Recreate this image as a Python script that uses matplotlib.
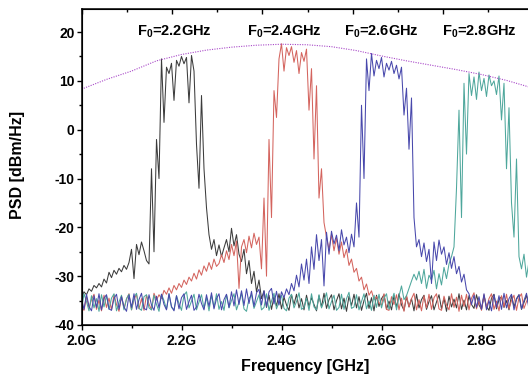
import numpy as np
import matplotlib
matplotlib.use('Agg')
import matplotlib.pyplot as plt
from matplotlib.ticker import MultipleLocator

plt.rcParams['font.family'] = ['Liberation Sans', 'DejaVu Sans']
plt.rcParams['font.weight'] = 'bold'
plt.rcParams['axes.unicode_minus'] = False
plt.rcParams['mathtext.fontset'] = 'custom'
plt.rcParams['mathtext.rm'] = 'Liberation Sans'
plt.rcParams['mathtext.default'] = 'regular'

# sample points every 5 MHz from 2.0 to 2.9 GHz
freq = np.linspace(2.0, 2.9, 181)

psd_22 = [-34.5, -33.2, -33.8, -32.6, -33.1, -31.9, -32.4, -31.5, -32.2, -30.6,
          -31.4, -29.2, -30.3, -28.8, -29.6, -28.4, -29.1, -27.8, -28.6, -27.2,
          -24.5, -30.5, -23.5, -25.6, -23.0, -24.8, -26.8, -27.5, -8.0, -25.0,
          -2.0, -10.0, 14.5, 1.5, 12.8, 11.5, 13.6, 6.0, 14.2, 13.0,
          15.0, 13.5, 14.8, 5.5, 15.2, 12.0, -3.0, -12.0, 7.0, -8.0,
          -16.0, -21.5, -24.5, -22.5, -25.8, -23.6, -26.0, -24.2, -22.5, -25.0,
          -20.2, -23.8, -21.5, -25.5, -27.0, -24.5, -29.5, -26.8, -31.5, -29.0,
          -33.2, -30.8, -34.6, -33.0, -36.4, -33.9, -36.8, -34.2, -36.1, -33.6,
          -36.7, -34.3, -35.9, -37.0, -33.8, -35.8, -33.7, -36.5, -34.6, -36.9,
          -33.9, -36.2, -34.4, -35.8, -37.1, -34.0, -36.3, -33.5, -36.6, -34.8,
          -33.8, -36.9, -35.0, -33.6, -36.7, -34.5, -37.2, -34.1, -36.0, -33.7,
          -36.5, -34.2, -37.0, -35.0, -33.5, -36.6, -34.4, -37.1, -33.9, -36.2,
          -34.6, -33.8, -36.8, -35.1, -36.9, -34.0, -36.4, -33.6, -35.9, -37.0,
          -34.2, -36.3, -34.6, -37.1, -33.7, -36.5, -34.8, -33.9, -36.8, -35.2,
          -34.0, -36.9, -35.3, -33.8, -36.7, -34.5, -37.2, -34.1, -36.3, -34.7,
          -36.5, -33.6, -36.8, -34.9, -36.9, -34.0, -35.8, -36.6, -33.8, -35.9,
          -36.8, -34.0, -36.2, -37.0, -34.5, -33.7, -36.7, -34.8, -34.2, -36.4,
          -35.0, -36.9, -33.9, -36.3, -34.6, -33.8, -36.8, -35.4, -33.9, -36.0,
          -36.5]

psd_24 = [-36.3, -37.0, -34.2, -36.5, -34.8, -33.7, -36.8, -34.9, -37.1, -33.9,
          -36.4, -34.5, -36.9, -33.8, -35.8, -37.2, -34.1, -36.6, -34.7, -33.6,
          -36.9, -34.8, -33.7, -36.7, -34.6, -37.0, -33.9, -35.7, -36.9, -33.5,
          -34.9, -33.8, -34.6, -32.9, -33.7, -32.4, -33.5, -31.9, -32.8, -31.5,
          -32.3, -30.8, -31.7, -30.2, -31.0, -29.4, -30.6, -28.7, -29.8, -27.9,
          -29.0, -27.2, -28.6, -26.5, -28.0, -27.4, -25.6, -27.2, -24.8, -26.6,
          -23.5, -25.8, -22.8, -32.5, -24.0, -22.5, -25.2, -21.8, -24.2, -21.2,
          -23.5, -22.0, -28.5, -14.0, -30.0, -2.0, -18.0, 8.0, 2.5, 14.5,
          17.6, 12.0, 16.8, 15.2, 17.0, 13.8, 16.2, 11.5, 15.8, 14.0,
          16.5, 4.0, 12.5, -6.0, 9.0, -14.0, -8.0, -19.0, -22.0, -24.5,
          -21.5, -24.8, -22.2, -25.5, -23.0, -26.2, -24.5, -27.8, -26.5, -29.2,
          -28.4, -31.0, -30.2, -32.8, -31.6, -33.9, -33.0, -34.8, -34.2, -35.5,
          -35.9, -33.6, -36.8, -37.0, -34.2, -35.8, -33.8, -36.9, -34.5, -37.2,
          -33.9, -36.3, -34.6, -33.5, -36.9, -34.8, -37.1, -34.0, -36.5, -33.7,
          -36.8, -34.4, -33.6, -36.7, -37.0, -34.1, -35.9, -36.9, -33.6, -36.4,
          -34.3, -37.2, -33.9, -36.2, -33.7, -36.9, -34.5, -33.4, -36.7, -35.0,
          -37.0, -33.8, -36.5, -34.6, -33.6, -36.8, -35.1, -37.1, -34.0, -36.3,
          -33.7, -36.7, -35.0, -33.9, -37.0, -34.4, -33.6, -36.6, -35.2, -34.0,
          -36.4]

psd_26 = [-34.6, -36.8, -33.7, -36.2, -37.1, -34.0, -36.4, -33.6, -36.9, -34.5,
          -33.8, -36.7, -37.0, -34.6, -33.7, -36.8, -34.2, -36.3, -37.2, -33.9,
          -36.4, -33.6, -36.8, -34.8, -33.5, -36.6, -36.9, -33.8, -35.9, -37.0,
          -34.1, -36.5, -33.7, -35.8, -36.9, -33.6, -36.2, -37.1, -34.0, -36.7,
          -34.4, -33.6, -36.8, -35.2, -33.9, -37.0, -36.3, -33.7, -35.6, -36.9,
          -33.8, -36.2, -33.4, -36.7, -34.6, -33.6, -36.9, -34.8, -33.7, -36.4,
          -33.2, -36.1, -32.8, -35.8, -33.0, -36.0, -32.6, -35.6, -33.1, -36.2,
          -33.4, -32.7, -35.9, -33.0, -36.2, -33.2, -32.5, -35.7, -33.1, -35.9,
          -33.2, -34.4, -32.6, -33.8, -31.5, -33.0, -29.8, -32.2, -27.5, -30.8,
          -26.5, -31.5, -24.0, -28.6, -21.5, -26.8, -22.5, -32.0, -21.0, -25.5,
          -20.8, -23.4, -21.6, -24.8, -20.5, -23.6, -22.0, -25.2, -21.4, -24.0,
          -15.0, -22.0, 5.0, -10.0, 14.5, 8.0, 15.6, 11.0, 14.2, 12.5,
          14.8, 10.8, 13.6, 12.2, 14.0, 11.5, 13.2, 10.4, 12.8, 3.0,
          8.5, -4.0, 6.5, -18.0, -24.0, -22.5, -26.0, -23.2, -27.0, -24.5,
          -31.5, -23.0, -26.8, -22.6, -25.5, -24.0, -27.6, -25.2, -28.4, -26.0,
          -29.5, -28.0, -31.2, -29.6, -32.8, -33.6, -35.8, -33.9, -36.4, -34.2,
          -36.8, -33.6, -36.9, -35.0, -37.1, -33.8, -36.4, -34.0, -36.8, -33.5,
          -36.5, -34.6, -33.7, -36.9, -34.8, -33.8, -36.7, -35.0, -33.5, -36.8,
          -34.4]

psd_28 = [-36.7, -33.6, -35.2, -37.1, -34.0, -36.5, -34.6, -37.2, -33.8, -36.3,
          -33.9, -36.8, -34.5, -33.6, -37.1, -35.3, -33.9, -36.9, -34.6, -33.7,
          -36.9, -34.4, -33.5, -36.6, -37.0, -34.2, -33.8, -36.5, -36.9, -33.9,
          -35.8, -37.2, -33.7, -35.0, -36.8, -33.6, -36.4, -36.9, -34.0, -35.6,
          -37.0, -33.9, -33.2, -36.5, -35.1, -33.7, -36.9, -35.3, -33.8, -36.6,
          -34.4, -37.1, -33.9, -36.4, -33.6, -36.8, -35.2, -37.0, -33.8, -36.5,
          -35.0, -33.6, -36.9, -35.3, -33.5, -36.7, -37.2, -34.6, -33.8, -36.6,
          -35.2, -33.8, -36.9, -36.4, -33.6, -37.0, -35.1, -33.5, -36.7, -35.3,
          -33.9, -36.6, -37.1, -34.5, -33.7, -36.5, -35.2, -33.4, -36.8, -36.4,
          -34.5, -37.0, -33.6, -36.3, -36.9, -33.8, -36.5, -35.1, -33.4, -36.7,
          -35.2, -33.9, -37.0, -36.4, -33.7, -36.8, -34.6, -33.3, -36.6, -36.3,
          -33.8, -36.9, -35.2, -33.6, -36.7, -35.1, -37.0, -33.9, -36.4, -33.7,
          -36.5, -34.5, -33.6, -36.8, -35.2, -33.5, -36.9, -34.1, -32.0, -34.8,
          -34.0, -32.5, -31.0, -29.6, -30.8, -29.0, -31.5, -28.6, -32.5, -29.8,
          -30.8, -28.8, -32.6, -29.5, -31.8, -28.2, -30.5, -27.5, -26.0, -24.0,
          -12.0, 4.0, -18.0, 9.5, -5.0, 11.5, 7.0, 10.8, 6.2, 11.8,
          8.0, 10.5, 6.8, 11.2, 9.0, 10.0, 7.2, 11.0, 2.0, 9.5,
          -8.0, 4.5, -15.0, -22.0, -6.0, -26.0, -28.5, -25.5, -30.2, -27.0,
          -29.0]

# dotted envelope over the four bands
env_freq = [2.0, 2.05, 2.1, 2.15, 2.2, 2.25, 2.3, 2.35, 2.4, 2.45,
            2.5, 2.55, 2.6, 2.65, 2.7, 2.75, 2.8, 2.85, 2.9]
env_psd = [8.3, 10.3, 12.0, 14.1, 15.4, 16.3, 16.9, 17.3, 17.5, 17.4,
           17.0, 16.2, 15.1, 14.1, 13.2, 12.3, 11.3, 10.1, 8.6]

labels = ['F$_0$=2.2GHz', 'F$_0$=2.4GHz', 'F$_0$=2.6GHz', 'F$_0$=2.8GHz']
label_x = [2.186, 2.405, 2.599, 2.795]
xtick_vals = [2.0, 2.2, 2.4, 2.6, 2.8]
xtick_text = ['2.0G', '2.2G', '2.4G', '2.6G', '2.8G']

fig = plt.figure(figsize=(5.28, 3.81), dpi=100)
# axes run off the right edge like in the original crop
ax = fig.add_axes([81.5/528, 56/381, 500/528, 316.4/381])

ax.plot(freq, psd_22, color='#3c3c3c', lw=0.75)
ax.plot(freq, psd_24, color='#d4645e', lw=0.75)
ax.plot(freq, psd_28, color='#4ea79c', lw=0.75)
ax.plot(freq, psd_26, color='#4848ac', lw=0.75)
ax.plot(env_freq, env_psd, color='#a848c8', lw=0.8, ls=(0, (1, 1.2)))

for t, x in zip(labels, label_x):
    ax.text(x, 20, t, ha='center', va='center', fontsize=10.5, fontweight='bold')

ax.set_xlim(2.0, 3.0)
ax.set_ylim(-40, 24.8)
ax.set_xticks(xtick_vals)
ax.set_xticklabels(xtick_text)
ax.xaxis.set_minor_locator(MultipleLocator(0.1))
ax.yaxis.set_major_locator(MultipleLocator(10))
ax.yaxis.set_minor_locator(MultipleLocator(5))
ax.tick_params(which='both', direction='out', labelsize=10, width=1)
ax.tick_params(which='major', length=3.5, pad=1.5)
ax.tick_params(which='minor', length=2)
ax.tick_params(axis='x', pad=3)
for s in ax.spines.values():
    s.set_linewidth(1.1)

# top axis ticks are spaced differently in the original
ax2 = ax.twiny()
ax2.set_xlim(0, 500/90.4)
ax2.xaxis.set_major_locator(MultipleLocator(1))
ax2.xaxis.set_minor_locator(MultipleLocator(0.5))
ax2.tick_params(which='both', direction='in', labeltop=False)
ax2.tick_params(which='major', length=3.5, width=1)
ax2.tick_params(which='minor', length=2, width=1)

fig.text(305/528, 14/381, 'Frequency [GHz]', ha='center', va='center',
         fontsize=11.5, fontweight='bold')
fig.text(18/528, 1 - 165/381, 'PSD [dBm/Hz]', ha='center', va='center',
         rotation=90, fontsize=11.5, fontweight='bold')

fig.savefig('out.png', dpi=100)
